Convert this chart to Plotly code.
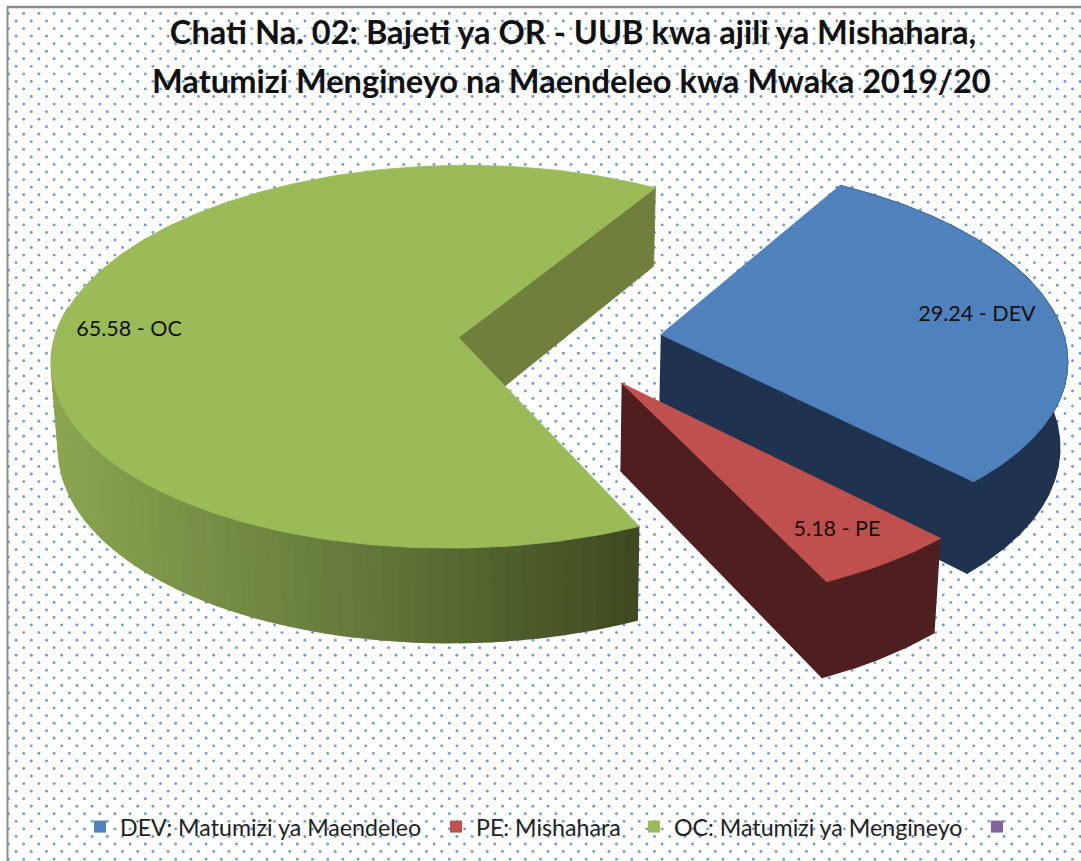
import numpy as np
import plotly.graph_objects as go

# ---------- data ----------
categories = ["DEV", "PE", "OC"]
legend_names = ["DEV: Matumizi ya Maendeleo", "PE: Mishahara", "OC: Matumizi ya Mengineyo", " "]
values = [29.24, 5.18, 65.58]
title_line1 = "Chati Na. 02: Bajeti ya OR - UUB kwa ajili ya Mishahara,"
title_line2 = "Matumizi Mengineyo na Maendeleo kwa Mwaka 2019/20"

# ---------- style ----------
W, H = 1081, 861
top_colors = ["#4F81BD", "#C0504D", "#9BBB59", "#8064A2"]
wall_colors = ["#1E3350", "#4F1F1F", "#6E803C"]
FONT = "Lato"
label_xy = [(977, 316), (837, 531), (129, 331)]
legend_x = [80, 436, 634, 977]
pulls = [0.257, 0.27, 0.247]

# pseudo-3D projection of a circular pie
RX, RY = 404, 190
BASE_X, Y0, VX = 558, 340, 540
PERSP_X, PERSP_Y, DEPTH, SHRINK = 0.11, 0.10, 85, 0.985
ROT = 31.0


def project(th, rad, cxw, cyw):
    X = cxw + RX * rad * np.sin(th)
    Y = cyw + rad * np.cos(th)
    fx = 1 / (1 + PERSP_X * Y)
    fy = 1 / (1 + PERSP_Y * Y)
    return VX + (X - VX) * fx, Y0 - Y * fy * RY, fy


def lower(x, y, f):
    return VX + (x - VX) * SHRINK, y + DEPTH * f


def mix(c1, c2, t):
    a = [int(c1[i:i + 2], 16) for i in (1, 3, 5)]
    b = [int(c2[i:i + 2], 16) for i in (1, 3, 5)]
    return "#" + "".join(f"{round(p + (q - p) * t):02x}" for p, q in zip(a, b))


fig = go.Figure()


def poly(xs, ys, color, lw=0.8):
    fig.add_trace(go.Scatter(x=list(xs), y=list(ys), mode="lines", fill="toself", fillcolor=color,
                             line=dict(color=color, width=lw), hoverinfo="skip", showlegend=False))


# dotted background
gx, gy = [], []
for r, yy in enumerate(np.arange(13.5, H + 5, 7.55)):
    xx = np.arange(8.5 + (7.6 if r % 2 else 0), W + 5, 15.2)
    gx += list(xx)
    gy += [yy] * len(xx)
fig.add_trace(go.Scatter(x=gx, y=gy, mode="markers", marker=dict(size=2.9, color="#729BCE", line=dict(width=0)),
                         hoverinfo="skip", showlegend=False))

# slices from the values
total = sum(values)
angle = np.radians(ROT)
spans = []
for v in values:
    s = 2 * np.pi * v / total
    spans.append((angle, angle + s))
    angle += s

for i, (a0, a1) in enumerate(spans):
    mid = (a0 + a1) / 2
    cxw = BASE_X + RX * pulls[i] * np.sin(mid)
    cyw = pulls[i] * np.cos(mid)
    th = np.linspace(a0, a1, 240)
    ax, ay, af = project(th, 1.0, cxw, cyw)
    lx, ly = lower(ax, ay, af)
    ccx, ccy, ccf = project(0.0, 0.0, cxw, cyw)
    clx, cly = lower(ccx, ccy, ccf)

    if i == 2:
        # inner wall seen at the slice's end edge
        poly([ccx, ax[-1], lx[-1], clx], [ccy, ay[-1], ly[-1], cly], wall_colors[2])
        # outer wall shaded from left to right
        idx = np.where(np.cos(th) < 0.15)[0]
        for k in range(idx[0], idx[-1], 2):
            xs = np.r_[ax[k:k + 3], lx[k:k + 3][::-1]]
            ys = np.r_[ay[k:k + 3], ly[k:k + 3][::-1]]
            t = np.clip((ax[k] - 50) / 590, 0, 1)
            c = mix("#8CA650", "#5F7338", t / 0.6) if t < 0.6 else mix("#5F7338", "#3F4A20", (t - 0.6) / 0.4)
            poly(xs, ys, c, lw=2)
    else:
        # inner wall at the slice's end edge, then outer rim
        poly([ccx, ax[-1], lx[-1], clx], [ccy, ay[-1], ly[-1], cly], wall_colors[i], lw=1.5)
        poly(np.r_[ax, lx[::-1]], np.r_[ay, ly[::-1]], wall_colors[i], lw=1.5)
    poly(np.r_[ccx, ax, ccx], np.r_[ccy, ay, ccy], top_colors[i])

# value labels
fig.add_trace(go.Scatter(x=[p[0] for p in label_xy], y=[p[1] for p in label_xy], mode="text",
                         text=[f"{v} - {c}" for v, c in zip(values, categories)],
                         textposition="middle center", textfont=dict(family=FONT, size=21.5, color="#111111"),
                         hoverinfo="skip", showlegend=False))

# legend entries
layout_legends = {}
for i, name in enumerate(legend_names):
    key = "legend" if i == 0 else f"legend{i + 1}"
    fig.add_trace(go.Scatter(x=[None], y=[None], mode="markers", name=name, legend=key,
                             marker=dict(symbol="square", size=14, color=top_colors[i], line=dict(width=0))))
    layout_legends[key] = dict(x=legend_x[i] / W, y=1 - 827 / H, xanchor="left", yanchor="middle",
                               bgcolor="rgba(0,0,0,0)", font=dict(family=FONT, size=23.2, color="#222222"),
                               itemsizing="constant", itemclick=False, itemdoubleclick=False)

fig.update_layout(
    width=W, height=H, margin=dict(l=0, r=0, t=0, b=0),
    paper_bgcolor="white", plot_bgcolor="white",
    xaxis=dict(range=[0, W], visible=False, fixedrange=True),
    yaxis=dict(range=[H, 0], visible=False, fixedrange=True),
    title=dict(text=f"<b>{title_line1}</b>", x=573 / W, y=1 - 33 / H, xanchor="center", yanchor="middle",
               font=dict(family=FONT, size=32.6, color="#111111")),
    annotations=[dict(text=f"<b>{title_line2}</b>", x=571, y=80, xref="x", yref="y", showarrow=False,
                      font=dict(family=FONT, size=32.6, color="#111111"))],
    shapes=[dict(type="line", xref="x", yref="y", x0=7.5, x1=7.5, y0=7, y1=H, line=dict(color="#8C8C8C", width=2)),
            dict(type="line", xref="x", yref="y", x0=7, x1=W, y0=7, y1=7, line=dict(color="#8C8C8C", width=2.5))],
    **layout_legends,
)

fig.write_html("out.html", config={"displayModeBar": False},
               post_script="document.body.style.margin='0';document.body.style.overflow='hidden';")
